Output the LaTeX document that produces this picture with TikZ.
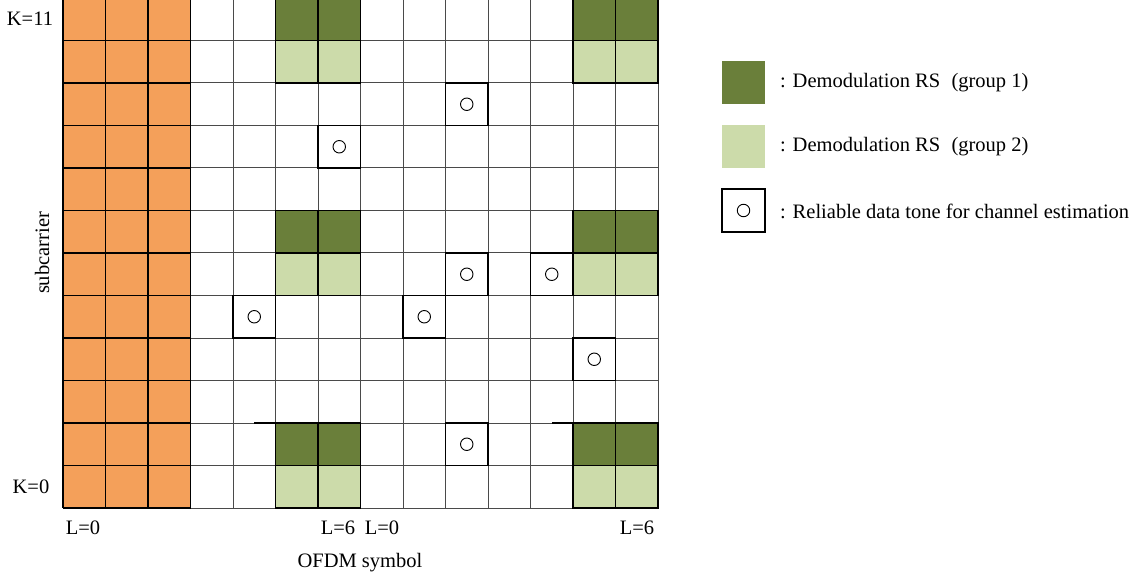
\documentclass[tikz,border=0pt]{standalone}
\usepackage{fontspec}
\setmainfont{Liberation Serif}
\definecolor{orangec}{HTML}{F4A05A}
\definecolor{dkgreen}{HTML}{6A7F3A}
\definecolor{ltgreen}{HTML}{CCDBAA}
\definecolor{gridc}{HTML}{4A4A4A}
\tikzset{
  gridline/.style={draw=gridc, line width=1pt},
  blackline/.style={draw=black, line width=1.1pt},
  tone/.style={circle, draw=black, line width=0.9pt, minimum size=12.5pt, inner sep=0pt},
  lbl/.style={inner sep=0pt, font=\fontsize{20.5}{24}\selectfont},
}
\newcommand{\cellfill}[3]{\fill[#3] ({63+42.5*#1},{508-42.5*(#2+1)}) rectangle ++(42.5,42.5);}
\newcommand{\cellbox}[2]{\draw[blackline] ({63+42.5*#1},{508-42.5*(#2+1)}) rectangle ++(42.5,42.5);}
\newcommand{\celltone}[3]{\cellbox{#1}{#2}\node[tone] (#3) at ({63+42.5*#1+21.25},{508-42.5*#2-21.25}) {};}
\begin{document}
\begin{tikzpicture}[x=1pt,y=-1pt]
\useasboundingbox (0,0) rectangle (1138,580);
\fill[white] (0,0) rectangle (1138,580);
% orange columns
\fill[orangec] (63,-2) rectangle (190.5,508);
% green cells
\foreach \c in {5,6,12,13}{
  \foreach \k in {11,6,1}{\cellfill{\c}{\k}{dkgreen}}
  \foreach \k in {10,5,0}{\cellfill{\c}{\k}{ltgreen}}
}
% gray grid
\foreach \i in {0,...,14}{\draw[gridline] ({63+42.5*\i},-2) -- ({63+42.5*\i},508);}
\foreach \j in {0,...,12}{\draw[gridline] (63,{508-42.5*\j}) -- (658,{508-42.5*\j});}
% black borders: orange region
\foreach \i in {0,...,3}{\draw[blackline] ({63+42.5*\i},-2) -- ({63+42.5*\i},508);}
\foreach \j in {0,...,12}{\draw[blackline] (63,{508-42.5*\j}) -- (190.5,{508-42.5*\j});}
% black borders: green cells
\foreach \c in {5,6,12,13}{
  \foreach \k in {11,10,6,5,1,0}{\cellbox{\c}{\k}}
}
% artifact segments
\draw[blackline] (254,423) -- (275.5,423);
\draw[blackline] (552,423) -- (573,423);
% reliable data tones
\celltone{9}{9}{t1}
\celltone{6}{8}{t2}
\celltone{9}{5}{t3}
\celltone{11}{5}{t4}
\celltone{4}{4}{t5}
\celltone{8}{4}{t6}
\celltone{12}{3}{t7}
\celltone{9}{1}{t8}
% axis labels
\node[lbl] (k11) at (30,19) {K=11};
\node[lbl] (k0) at (31,487) {K=0};
\node[lbl, rotate=90] (sub) at (42,253) {subcarrier};
\node[lbl] (l0a) at (83,528) {L=0};
\node[lbl] (l6a) at (338,528) {L=6};
\node[lbl] (l0b) at (382,528) {L=0};
\node[lbl] (l6b) at (637,528) {L=6};
\node[lbl] (ofdm) at (360,563) {OFDM symbol};
% legend
\fill[dkgreen] (722,61) rectangle (765,104);
\fill[ltgreen] (722,125) rectangle (765,168);
\draw[blackline] (722,189) rectangle (765,232);
\node[tone] (ltone) at (743.5,210.5) {};
\node[lbl, anchor=west] (lg1) at (780,83) {: Demodulation RS\hspace{0.3em} (group 1)};
\node[lbl, anchor=west] (lg2) at (780,147) {: Demodulation RS\hspace{0.3em} (group 2)};
\node[lbl, anchor=west] (lg3) at (780,211) {: Reliable data tone for channel estimation};
\end{tikzpicture}
\end{document}
